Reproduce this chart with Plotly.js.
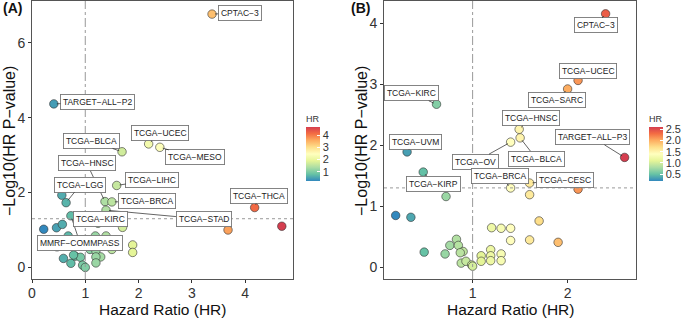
<!DOCTYPE html>
<html>
<head>
<meta charset="utf-8">
<script src="https://cdn.plot.ly/plotly-3.0.1.min.js"></script>
<style>html,body{margin:0;padding:0;background:#fff}#chart{width:685px;height:318px}</style>
</head>
<body>
<div id="chart"></div>
<script>
// ---------- Panel A data ----------
const hrA = [3.38, 0.41, 1.69, 2.19, 2.40, 1.59, 1.37, 1.50, 1.39, 0.64, 0.56, 0.73, 1.24, 4.18, 3.68, 4.69, 0.46, 0.57, 0.22, 0.47, 1.70, 1.89, 1.89, 0.59, 0.73, 0.81, 0.91, 0.95, 1.00, 1.19, 1.39, 1.09, 1.19, 1.09, 1.20, 1.29, 1.20, 1.20, 1.50, 1.39, 0.68, 0.78];
const pA  = [6.77, 4.37, 3.09, 3.30, 3.21, 2.19, 1.76, 1.75, 1.53, 1.73, 1.93, 1.38, 1.18, 1.60, 1.00, 1.10, 1.06, 1.15, 1.02, 0.55, 1.07, 0.60, 0.40, 0.24, 0.11, 0.30, 0.27, 0.06, 0.00, 0.84, 0.84, 0.68, 0.68, 0.48, 0.44, 0.28, 0.28, 0.12, 0.48, 0.66, 0.84, 0.33];
const labelsA   = ["CPTAC−3", "TARGET−ALL−P2", "TCGA−BLCA", "TCGA−UCEC", "TCGA−MESO", "TCGA−LIHC", "TCGA−HNSC", "TCGA−BRCA", "TCGA−STAD", "TCGA−LGG", "MMRF−COMMPASS", "TCGA−KIRC", "TCGA−THCA"];
const labelIdxA = [0, 1, 2, 3, 4, 5, 6, 7, 8, 9, 11, 12, 13];
const labelPosXA = [3.90, 1.23, 1.11, 2.40, 3.06, 2.26, 1.03, 2.15, 3.22, 0.91, 0.90, 1.28, 4.26];
const labelPosYA = [6.80, 4.41, 3.38, 3.59, 2.94, 2.34, 2.78, 1.77, 1.29, 2.21, 0.66, 1.29, 1.91];
const cbTicksA = [1, 2, 3, 4];

// ---------- Panel B data ----------
const hrB = [2.40, 2.11, 2.00, 0.62, 1.49, 1.50, 1.40, 0.31, 2.60, 0.48, 1.40, 1.60, 0.72, 1.60, 2.11, 0.19, 0.35, 1.70, 1.20, 1.30, 1.40, 1.40, 1.60, 1.90, 0.49, 0.71, 0.76, 0.83, 0.85, 0.90, 0.87, 0.88, 0.93, 0.99, 1.00, 1.09, 1.09, 1.19, 1.19, 1.19, 1.30, 1.30];
const pB  = [4.15, 3.06, 2.92, 2.67, 2.26, 2.12, 2.05, 1.89, 1.80, 1.56, 1.30, 1.38, 1.16, 1.19, 1.28, 0.85, 0.82, 0.76, 0.65, 0.64, 0.64, 0.44, 0.45, 0.41, 0.25, 0.22, 0.36, 0.46, 0.36, 0.26, 0.24, 0.07, 0.10, 0.04, 0.02, 0.19, 0.10, 0.29, 0.19, 0.11, 0.22, 0.11];
const labelsB   = ["CPTAC−3", "TCGA−UCEC", "TCGA−SARC", "TCGA−KIRC", "TCGA−HNSC", "TCGA−BLCA", "TCGA−OV", "TCGA−UVM", "TARGET−ALL−P3", "TCGA−KIRP", "TCGA−BRCA", "TCGA−CESC"];
const labelIdxB = [0, 1, 2, 3, 4, 5, 6, 7, 8, 9, 10, 11];
const labelPosXB = [2.30, 2.21, 1.89, 0.36, 1.61, 1.67, 1.03, 0.40, 2.26, 0.59, 1.29, 1.97];
const labelPosYB = [3.96, 3.22, 2.74, 2.85, 2.44, 1.78, 1.73, 2.06, 2.13, 1.37, 1.49, 1.43];
const cbTicksB = [0.5, 1.0, 1.5, 2.0, 2.5];

// thresholds
const hrLine = 1;
const pLine = -Math.log10(0.05);

const FONT = "Liberation Sans, Arial, Helvetica, sans-serif";
const spectral = [[0,'#3288BD'],[0.125,'#66C2A5'],[0.25,'#ABDDA4'],[0.375,'#E6F598'],[0.5,'#FFFFBF'],[0.625,'#FEE08B'],[0.75,'#FDAE61'],[0.875,'#F46D43'],[1,'#D53E4F']];

function cb(xPos, ticks, fmt) {
  return {
    x: xPos, xanchor: 'left', y: 0.539, yanchor: 'middle',
    len: 69, lenmode: 'pixels', thickness: 14, thicknessmode: 'pixels',
    outlinewidth: 0, ticks: 'inside', ticklen: 3, tickcolor: 'white',
    tickvals: ticks, tickformat: fmt, tickfont: {family: FONT, size: 11, color: '#333'},
    title: {text: 'HR', side: 'top', font: {family: FONT, size: 9, color: '#333'}},
    xpad: 0, ypad: 0
  };
}

const traceA = {
  x: hrA, y: pA, type: 'scatter', mode: 'markers', xaxis: 'x', yaxis: 'y',
  marker: {size: 8.5, color: hrA, colorscale: spectral, line: {color: '#333', width: 0.6}, colorbar: cb(0.4467, cbTicksA, 'd')},
  hoverinfo: 'skip', showlegend: false
};
const traceB = {
  x: hrB, y: pB, type: 'scatter', mode: 'markers', xaxis: 'x2', yaxis: 'y2',
  marker: {size: 8.5, color: hrB, colorscale: spectral, line: {color: '#333', width: 0.6}, colorbar: cb(0.9474, cbTicksB, '.1f')},
  hoverinfo: 'skip', showlegend: false
};

function labelAnns(labels, idx, lx, ly, hr, p, xr, yr) {
  return labels.map((t, i) => ({
    text: t, x: hr[idx[i]], y: p[idx[i]], xref: xr, yref: yr,
    ax: lx[i], ay: ly[i], axref: xr, ayref: yr,
    showarrow: true, arrowhead: 0, arrowwidth: 0.7, arrowcolor: '#222', standoff: 3,
    font: {family: FONT, size: 8.5, color: '#222'},
    bgcolor: 'white', bordercolor: '#777', borderwidth: 0.9, borderpad: 2
  }));
}

const axBase = {
  showgrid: false, zeroline: false, showline: true, mirror: true,
  linecolor: '#555', linewidth: 1, ticks: 'outside', ticklen: 3, tickcolor: '#333',
  tickfont: {family: FONT, size: 14, color: '#333'}
};

const layout = {
  width: 685, height: 318,
  margin: {l: 0, r: 0, t: 0, b: 0},
  paper_bgcolor: 'white', plot_bgcolor: 'white',
  font: {family: FONT},
  xaxis: Object.assign({}, axBase, {domain: [32/685, 293/685], range: [0, 4.9], tickvals: [0,1,2,3,4], anchor: 'y', ticklabelstandoff: -2}),
  yaxis: Object.assign({}, axBase, {domain: [39/318, 317/318], range: [-0.31, 7.12], tickvals: [0,2,4,6], anchor: 'x'}),
  xaxis2: Object.assign({}, axBase, {domain: [384/685, 636/685], range: [0.067, 2.72], tickvals: [1,2], anchor: 'y2', ticklabelstandoff: -2}),
  yaxis2: Object.assign({}, axBase, {domain: [39/318, 317/318], range: [-0.19, 4.36], tickvals: [0,1,2,3,4], anchor: 'x2'}),
  shapes: [
    {type: 'line', xref: 'x', yref: 'paper', x0: hrLine, x1: hrLine, y0: 39/318, y1: 317/318, line: {color: '#999', width: 1, dash: 'dashdot'}},
    {type: 'line', xref: 'paper', yref: 'y', x0: 32/685, x1: 293/685, y0: pLine, y1: pLine, line: {color: '#999', width: 1, dash: 'dot'}},
    {type: 'line', xref: 'x2', yref: 'paper', x0: hrLine, x1: hrLine, y0: 39/318, y1: 317/318, line: {color: '#999', width: 1, dash: 'dashdot'}},
    {type: 'line', xref: 'paper', yref: 'y2', x0: 384/685, x1: 636/685, y0: pLine, y1: pLine, line: {color: '#999', width: 1, dash: 'dot'}}
  ],
  annotations: [].concat(
    labelAnns(labelsA, labelIdxA, labelPosXA, labelPosYA, hrA, pA, 'x', 'y'),
    labelAnns(labelsB, labelIdxB, labelPosXB, labelPosYB, hrB, pB, 'x2', 'y2'),
    [
      {text: '<b>(A)</b>', xref: 'paper', yref: 'paper', x: 1/685, y: 1 - 8/318, xanchor: 'left', yanchor: 'middle', showarrow: false, font: {family: FONT, size: 14, color: '#111'}},
      {text: '<b>(B)</b>', xref: 'paper', yref: 'paper', x: 349/685, y: 1 - 8/318, xanchor: 'left', yanchor: 'middle', showarrow: false, font: {family: FONT, size: 14, color: '#111'}},
      {text: 'Hazard Ratio (HR)', xref: 'paper', yref: 'paper', x: 162.5/685, y: 1 - 309/318, xanchor: 'center', yanchor: 'middle', showarrow: false, font: {family: FONT, size: 15.5, color: '#111'}},
      {text: 'Hazard Ratio (HR)', xref: 'paper', yref: 'paper', x: 510/685, y: 1 - 309/318, xanchor: 'center', yanchor: 'middle', showarrow: false, font: {family: FONT, size: 15.5, color: '#111'}},
      {text: '−Log10(HR P−value)', xref: 'paper', yref: 'paper', x: 9/685, y: 1 - 141/318, xanchor: 'center', yanchor: 'middle', textangle: -90, showarrow: false, font: {family: FONT, size: 16, color: '#111'}},
      {text: '−Log10(HR P−value)', xref: 'paper', yref: 'paper', x: 361/685, y: 1 - 141/318, xanchor: 'center', yanchor: 'middle', textangle: -90, showarrow: false, font: {family: FONT, size: 16, color: '#111'}}
    ]
  )
};

Plotly.newPlot('chart', [traceA, traceB], layout, {displayModeBar: false, staticPlot: true});
</script>
</body>
</html>
